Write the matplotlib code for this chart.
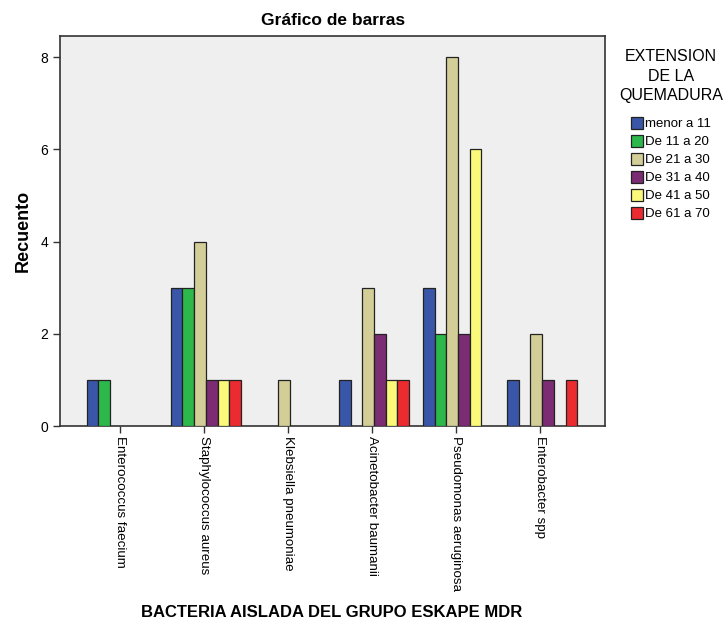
import matplotlib.pyplot as plt
from matplotlib.patches import Patch
import numpy as np

plt.rcParams['font.family'] = ['Liberation Sans', 'DejaVu Sans']

# categories and counts per burn extent group
bacterias = ['Enterococcus faecium', 'Staphylococcus aureus', 'Klebsiella pneumoniae',
             'Acinetobacter baumanii', 'Pseudomonas aeruginosa', 'Enterobacter spp']
grupos = ['menor a 11', 'De 11 a 20', 'De 21 a 30', 'De 31 a 40', 'De 41 a 50', 'De 61 a 70']
menor_11 = [1, 3, 0, 1, 3, 1]
de_11_20 = [1, 3, 0, 0, 2, 0]
de_21_30 = [0, 4, 1, 3, 8, 2]
de_31_40 = [0, 1, 0, 2, 2, 1]
de_41_50 = [0, 1, 0, 1, 6, 0]
de_61_70 = [0, 1, 0, 1, 0, 1]
colores = ['#3a56a8', '#2db84b', '#d3ce97', '#7b2c72', '#fbf97a', '#ec2b30']

series = [menor_11, de_11_20, de_21_30, de_31_40, de_41_50, de_61_70]

fig = plt.figure(figsize=(7.25, 6.29), dpi=100)
ax = fig.add_axes([0.0828, 0.3227, 0.752, 0.62])
ax.set_facecolor('#efefef')

x = np.arange(len(bacterias))
w = 0.139
for i, (vals, col) in enumerate(zip(series, colores)):
    offs = (i - 2.5) * w
    v = np.array(vals)
    mask = v > 0  # SPSS leaves empty slots for zero counts
    ax.bar(x[mask] + offs + 0.02, v[mask], width=w, color=col,
           edgecolor='#222222', linewidth=0.9, zorder=3)

ax.set_xlim(-0.714, 5.77)
ax.set_ylim(0, 8.46)
ax.set_yticks([0, 2, 4, 6, 8])
ax.set_xticks(x)
ax.set_xticklabels(bacterias, rotation=270, fontsize=9.6, va='top', ha='center')
ax.tick_params(axis='both', length=5, width=1, colors='#333333', labelcolor='black')
ax.tick_params(axis='x', pad=2)
ax.tick_params(axis='y', labelsize=10)
for s in ax.spines.values():
    s.set_color('#333333')
    s.set_linewidth(1.2)

ax.set_title('Gráfico de barras', fontsize=12.5, fontweight='bold', pad=8)
ax.set_ylabel('Recuento', fontsize=13, fontweight='bold')
ax.yaxis.set_label_coords(-0.052, 0.5)
fig.text(0.458, 0.014, 'BACTERIA AISLADA DEL GRUPO ESKAPE MDR', fontsize=12,
         fontweight='bold', ha='center', va='bottom')

handles = [Patch(facecolor=c, edgecolor='#222222', linewidth=0.9) for c in colores]
leg = fig.legend(handles, grupos, title='EXTENSION\nDE LA\nQUEMADURA',
                 loc='upper center', bbox_to_anchor=(0.9255, 0.936), frameon=False,
                 fontsize=9.5, title_fontsize=11.5, handlelength=0.9, handleheight=1.0,
                 handletextpad=0.2, labelspacing=0.35, borderpad=0.2)
leg.get_title().set_multialignment('center')
leg.get_title().set_linespacing(1.35)
leg._legend_box.sep = 10

fig.savefig('out.png', dpi=100)
